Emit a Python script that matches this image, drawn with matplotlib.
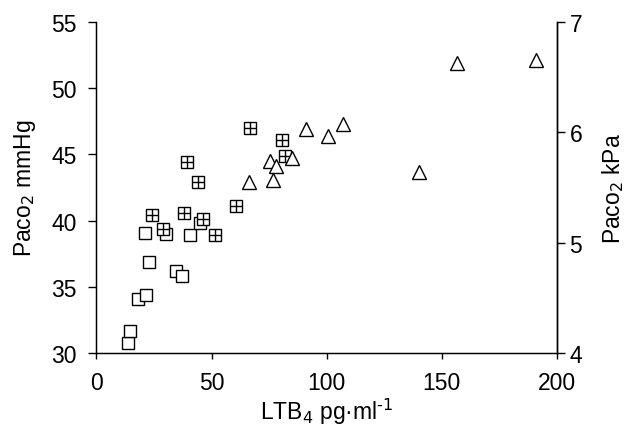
import matplotlib
matplotlib.use("Agg")
import matplotlib.pyplot as plt

plt.rcParams['font.family'] = ['Liberation Sans Narrow', 'Liberation Sans', 'DejaVu Sans']
plt.rcParams['mathtext.fontset'] = 'custom'
plt.rcParams['mathtext.rm'] = 'Liberation Sans Narrow'
plt.rcParams['mathtext.it'] = 'Liberation Sans Narrow'

# open squares
sq_x = [13.8, 14.8, 18.1, 21.6, 22.9, 21.3, 34.5, 37.0, 30.2, 40.7, 44.9]
sq_y = [30.8, 31.7, 34.1, 34.4, 36.9, 39.1, 36.2, 35.8, 39.0, 38.9, 39.8]

# squares with cross
cr_x = [24.1, 28.9, 38.1, 46.2, 51.4, 60.5, 39.4, 44.3, 66.9, 80.8, 81.8]
cr_y = [40.4, 39.4, 40.6, 40.1, 38.9, 41.1, 44.4, 42.9, 47.0, 46.1, 44.9]

# open triangles
tr_x = [66.3, 75.6, 78.0, 76.9, 85.1, 91.0, 100.6, 107.1, 140.3, 156.5, 190.7]
tr_y = [42.9, 44.5, 44.1, 43.1, 44.7, 46.9, 46.4, 47.3, 43.7, 51.9, 52.1]

fig = plt.figure(figsize=(6.3, 4.27), dpi=100)
ax = fig.add_axes([0.153, 0.170, 0.731, 0.777])

ms = 8.5
ax.plot(sq_x, sq_y, 's', ms=ms, mfc='white', mec='black', mew=1.0, ls='none')
ax.plot(cr_x, cr_y, 's', ms=ms, mfc='white', mec='black', mew=1.0, ls='none')
ax.plot(cr_x, cr_y, '+', ms=ms, mec='black', mew=1.0, ls='none')
ax.plot(tr_x, tr_y, '^', ms=9.5, mfc='white', mec='black', mew=1.0, ls='none')

ax.set_xlim(0, 200)
ax.set_ylim(30, 55)
ax.set_xticks([0, 50, 100, 150, 200])
ax.set_yticks([30, 35, 40, 45, 50, 55])
ax.spines['top'].set_visible(False)
for s in ['left', 'bottom', 'right']:
    ax.spines[s].set_linewidth(1.0)
ax.tick_params(axis='y', direction='out', length=6, width=1.0, labelsize=16.5, pad=8)
ax.tick_params(axis='x', direction='out', length=4, width=1.0, labelsize=16.5, pad=9)
ax.set_xlabel('LTB$_4$ pg\u00b7ml$^{\u2010 1}$', fontsize=16.5, labelpad=1)
ax.set_ylabel('Paco$_2$ mmHg', fontsize=16.5, labelpad=10)

ax2 = ax.twinx()
ax2.set_ylim(4, 7)
ax2.set_yticks([4, 5, 6, 7])
ax2.spines['top'].set_visible(False)
ax2.spines['right'].set_linewidth(1.0)
ax2.tick_params(axis='y', direction='out', length=6, width=1.0, labelsize=16.5, pad=3)
ax2.set_ylabel('Paco$_2$ kPa', fontsize=16.5, labelpad=13)

fig.savefig('out.png', dpi=100)
